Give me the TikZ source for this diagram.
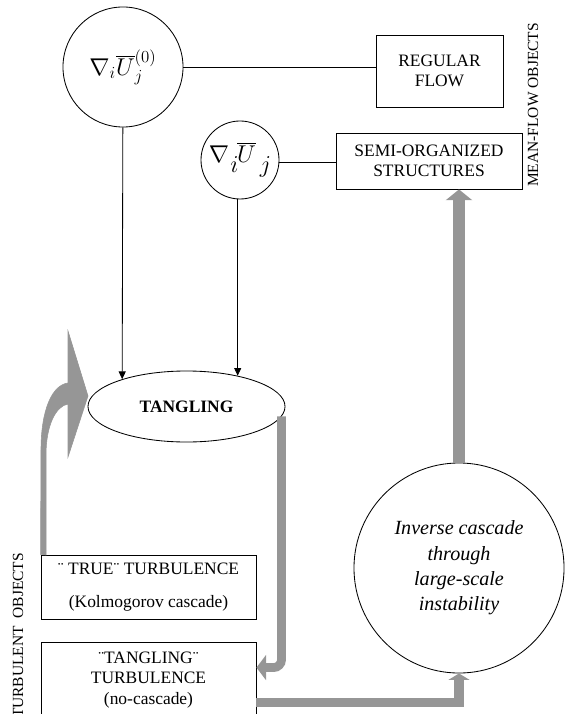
\documentclass[tikz,border=0pt]{standalone}
\usepackage{fontspec}
\setmainfont{Liberation Serif}
\usetikzlibrary{arrows.meta,calc,shapes.geometric}
\definecolor{flowgray}{RGB}{150,150,150}
\begin{document}
\begin{tikzpicture}[x=0.025cm, y=-0.025cm,
  every node/.style={font=\fontsize{12.4}{14.5}\selectfont},
  box/.style={draw, line width=0.6pt, align=center, inner sep=0pt},
  ring/.style={draw, circle, line width=0.6pt, inner sep=0pt},
  thinarr/.style={line width=0.6pt, -{Triangle[length=5.5pt, width=5pt]}},
  fatarr/.style={draw=flowgray, fill=flowgray}]
  \useasboundingbox (0,0) rectangle (568,714);
  \node [ring, minimum size=3cm, font=\fontsize{17}{20}\selectfont] (grad0) at (123,67) {$\nabla_{i}\overline{U}_{j}^{(0)}$};
  \node [ring, minimum size=1.95cm, font=\fontsize{16}{20}\selectfont] (grad) at (240,160) {$\nabla\mkern1mu\raisebox{-1ex}{$i$}\mkern-1mu\overline{U}\mkern3mu\raisebox{-1ex}{$j$}$};
  \node [box, minimum width=3.175cm, minimum height=1.8cm] (regular) at (439.5,71) {REGULAR\\FLOW};
  \node [box, minimum width=4.65cm, minimum height=1.4cm] (semi) at (429,161) {SEMI-ORGANIZED\\STRUCTURES};
  \node [rotate=90, font=\fontsize{11}{13}\selectfont] (meanflow) at (533,105) {MEAN-FLOW OBJECTS};
  \node [draw, ellipse, line width=0.6pt, minimum width=4.925cm, minimum height=1.775cm, font=\fontsize{12.4}{14.5}\selectfont\bfseries] (tangle) at (186.5,406.5) {TANGLING};
  \node [box, minimum width=5.375cm, minimum height=1.6cm] (true) at (148.5,587) {¨ TRUE¨ TURBULENCE\\[9pt](Kolmogorov cascade)};
  \node [box, minimum width=5.375cm, minimum height=1.9cm] (tt) at (148.5,680) {¨TANGLING¨\\TURBULENCE\\(no-cascade)};
  \node [rotate=90, anchor=east, font=\fontsize{11}{13}\selectfont] (turbobj) at (18,548) {TURBULENT~ OBJECTS};
  \node [ring, minimum size=5.25cm, align=center, font=\fontsize{14.3}{18}\selectfont\itshape] (inverse) at (459,568) {Inverse cascade\\through\\large-scale\\instability};
  \draw [line width=0.6pt] (grad0) -- (grad0 -| regular.west);
  \draw [line width=0.6pt] ($(grad.east)+(0,2)$) -- ($(grad.east -| semi.west)+(0,2)$);
  \draw [thinarr] (grad0) -- (tangle.157);
  \draw [thinarr] (tangle.31 |- grad.south) -- (tangle.31);
  \draw [flowgray, line width=0.22cm, rounded corners=0.2cm, -{Triangle[length=0.24cm, width=0.62cm]}] (tangle.-6) |- ($(tt.north east)+(0,26)$);
  \draw [flowgray, line width=0.24cm, -{Triangle[length=0.16cm, width=0.52cm]}] ($(tt.north east)+(0,61)$) -| (inverse.south);
  \draw [flowgray, line width=0.32cm, -{Triangle[length=0.27cm, width=0.65cm]}] (inverse.north) -- (inverse.north |- semi.south);
  \filldraw [fatarr] (true.north west) -- (41,450) .. controls (41,410) and (52,385) .. (68,383) -- (68,331) -- (88,396) -- (68,457) -- (68,404) .. controls (56,406) and (46,425) .. (46,455) -- (46,555) -- cycle;
\end{tikzpicture}
\end{document}
